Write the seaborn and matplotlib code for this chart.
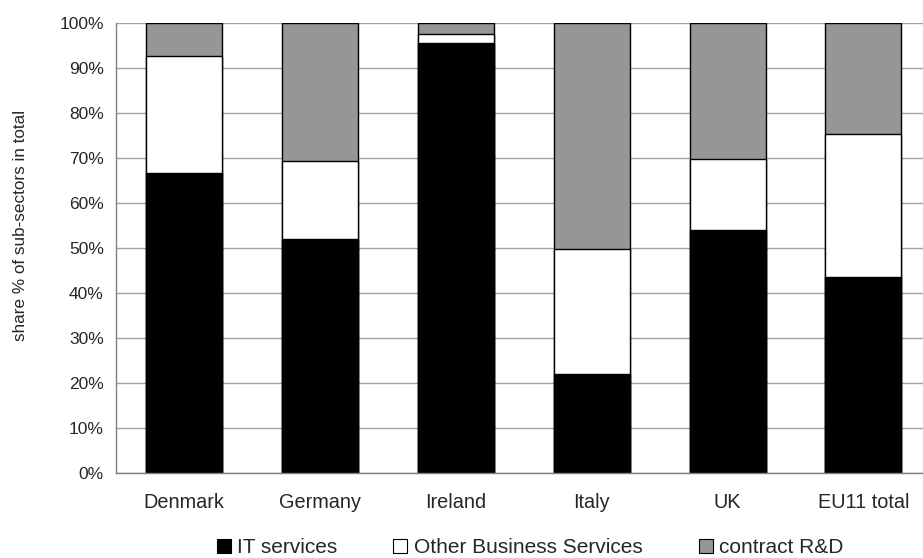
import pandas as pd
import numpy as np
import seaborn as sns
import matplotlib
matplotlib.use('Agg')
import matplotlib.pylab as plt
from matplotlib.patches import Patch
from matplotlib.ticker import PercentFormatter

countries = ['Denmark', 'Germany', 'Ireland', 'Italy', 'UK', 'EU11 total']
it_services = [66.7, 52.0, 95.5, 22.0, 54.0, 43.6]
other_business = [26.0, 17.3, 2.0, 27.8, 15.8, 31.7]
contract_rd = [7.3, 30.7, 2.5, 50.2, 30.2, 24.7]

series = ['IT services', 'Other Business Services', 'contract R&D']
colors = ['#000000', '#ffffff', '#969696']

sns.set_style('white')
plt.rcParams['font.family'] = ['Liberation Sans', 'DejaVu Sans']

df = pd.DataFrame({'country': countries, 'IT services': it_services,
                   'Other Business Services': other_business, 'contract R&D': contract_rd})
cum = df[series].cumsum(axis=1)

fig = plt.figure(figsize=(9.23, 5.58), dpi=100)
ax = fig.add_axes([0.126, 0.152, 0.883, 0.807])

# draw cumulative totals, tallest first so the lower segments sit on top
for s, c in reversed(list(zip(series, colors))):
	sns.barplot(x=df['country'], y=cum[s], color=c, edgecolor='black', linewidth=1.0,
				width=0.56, ax=ax, saturation=1)

ax.set_ylim(0, 100)
ax.set_xlim(-0.5, 5.5)
ax.set_yticks(np.arange(0, 101, 10))
ax.yaxis.set_major_formatter(PercentFormatter(decimals=0))
ax.set_xticks(np.arange(-0.5, 5.6, 1), minor=False)
ax.set_xticklabels([])
ax.set_xticks(np.arange(0, 6), minor=True)
ax.set_xticklabels(countries, minor=True)
ax.tick_params(axis='x', which='minor', length=0, pad=14, labelsize=14.3)
ax.tick_params(axis='x', which='major', length=5, direction='out', color='#808080', width=1)
ax.tick_params(axis='y', length=5, direction='out', color='#808080', width=1, labelsize=12.5, pad=4)
ax.yaxis.grid(True, color='#a0a0a0', linewidth=1)
ax.set_axisbelow(True)
for sp in ['top', 'right']:
	ax.spines[sp].set_visible(False)
for sp in ['left', 'bottom']:
	ax.spines[sp].set_color('#808080')
	ax.spines[sp].set_linewidth(1)
ax.set_xlabel('')
ax.set_ylabel('share % of sub-sectors in total', fontsize=12.3)
ax.yaxis.set_label_coords(-0.108, 0.551)

handles = [Patch(facecolor=c, edgecolor='black', linewidth=0.8, label=s) for s, c in zip(series, colors)]
fig.legend(handles=handles, loc='center left', bbox_to_anchor=(0.2145, 0.018), ncol=3, frameon=False,
		   fontsize=15, handlelength=0.67, handleheight=0.67, handletextpad=0.3, columnspacing=2.7)

fig.savefig('out.png', dpi=100)
plt.close()
